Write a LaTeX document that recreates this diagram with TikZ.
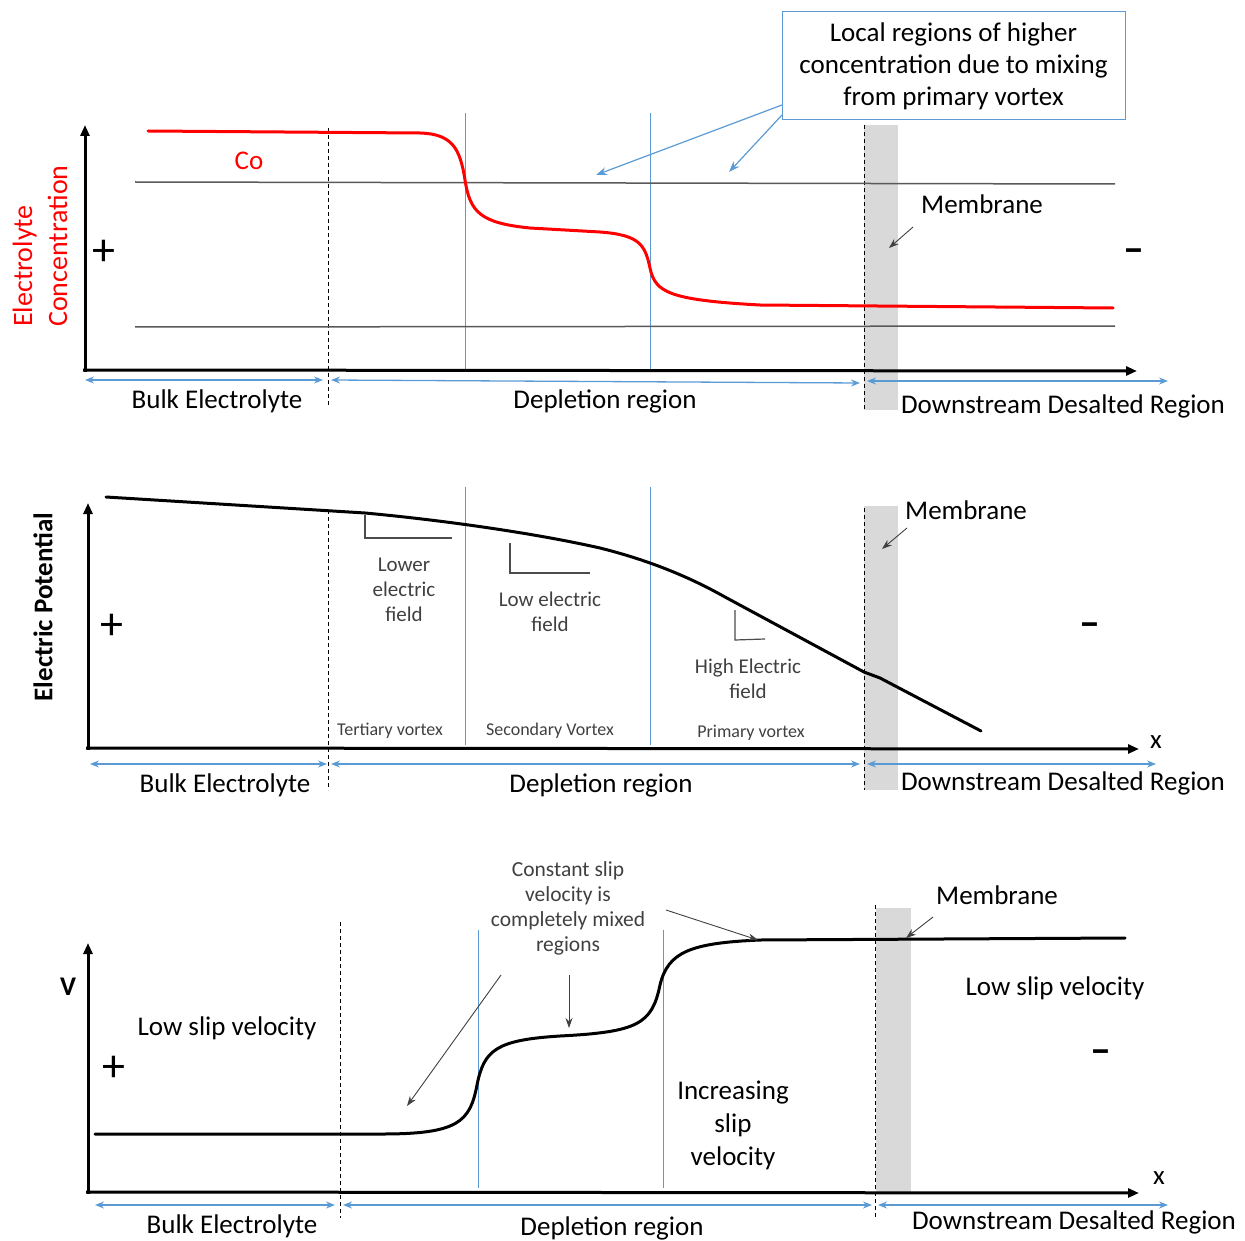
\documentclass[tikz,border=0pt]{standalone}
\usepackage{fontspec}
\setmainfont{Carlito}
\usetikzlibrary{arrows.meta}
\definecolor{lblue}{RGB}{91,155,213}
\definecolor{membc}{RGB}{217,217,217}
\definecolor{txtg}{RGB}{64,64,64}
\tikzset{
  axisline/.style={line width=3pt,-{Triangle[length=11pt,width=9pt]}},
  spanarrow/.style={lblue,line width=1.3pt,{Stealth[length=9pt,width=7pt]}-{Stealth[length=9pt,width=7pt]}},
  boundary/.style={line width=1pt,dash pattern=on 4pt off 3pt},
  vortexline/.style={lblue,line width=1pt},
  refline/.style={black!65,line width=1.5pt},
  membrect/.style={fill=membc,draw=none},
  lbl/.style={font=\fontsize{27}{32}\selectfont,inner sep=0pt},
  smalllbl/.style={font=\fontsize{21}{25}\selectfont,text=txtg,align=center,inner sep=0pt},
  tinylbl/.style={font=\fontsize{18}{21}\selectfont,text=txtg,inner sep=0pt},
  plussign/.style={font=\fontsize{46}{46}\selectfont,inner sep=0pt},
  minussign/.style={font=\fontsize{42}{42}\selectfont\bfseries,inner sep=0pt},
  pointer/.style={-{Stealth[length=10pt,width=7pt]},line width=0.9pt,black!75},
  bluepointer/.style={-{Stealth[length=11pt,width=8pt]},line width=1.2pt,lblue},
  slopemark/.style={black!70,line width=1.2pt},
  curve/.style={line width=3pt,line cap=round},
}
\begin{document}
\begin{tikzpicture}[x=1pt,y=-1pt]
\useasboundingbox (0,0) rectangle (1245,1241);

%%%%%%%%%%%%%%%% PANEL 1
\fill[membrect] (864,125) rectangle (898,410);
\draw[boundary] (864,125) -- (864,410);
\draw[boundary] (328,128) -- (328,405);
\draw[vortexline] (465,113) -- (465,370);
\draw[vortexline] (650,113) -- (650,370);
\draw[refline] (135,182) -- (1115,184);
\draw[refline] (135,327) -- (1115,326);
\draw[curve,red] (148,131) -- (420,133) .. controls (452,134) and (460,148) .. (465,180)
  .. controls (470,212) and (480,223) .. (530,228) -- (600,232)
  .. controls (640,235) and (645,245) .. (650,268)
  .. controls (655,292) and (668,300) .. (760,305) -- (1113,308);
\draw[axisline] (85,372) -- (85,125);
\draw[axisline] (83,370) -- (1137,371);
\node[lbl,text=red] (co) at (249,161) {Co};
\node[lbl,font=\fontsize{28}{35}\selectfont,text=red,rotate=90,align=left] (ylab1) at (40,246) {Electrolyte\\Concentration};
\node[plussign] (plus1) at (104,253) {+};
\node[minussign] (minus1) at (1134,256) {–};
\node[lbl,draw=lblue,line width=1pt,align=center,minimum width=343pt,minimum height=108pt,font=\fontsize{27}{32}\selectfont] (box) at (953.5,66) {Local regions of higher\\concentration due to mixing\\from primary vortex};
\coordinate (b1) at (782,105);
\coordinate (b2) at (782,115);
\coordinate (t1) at (596,175);
\coordinate (t2) at (729,172);
\draw[bluepointer] (b1) -- (t1);
\draw[bluepointer] (b2) -- (t2);
\node[lbl] (mem1) at (982,204) {Membrane};
\coordinate (m1a) at (913,227);
\coordinate (m1b) at (889,248);
\draw[pointer] (m1a) -- (m1b);
\coordinate (s1a) at (85,380); \coordinate (s1b) at (323,380);
\coordinate (s1c) at (331,380); \coordinate (s1d) at (860,383);
\coordinate (s1e) at (867,381); \coordinate (s1f) at (1168,381);
\draw[spanarrow] (s1a) -- (s1b);
\draw[spanarrow] (s1c) -- (s1d);
\draw[spanarrow] (s1e) -- (s1f);
\node[lbl] (bulk1) at (217,401) {Bulk Electrolyte};
\node[lbl] (depl1) at (605,401) {Depletion region};
\node[lbl] (down1) at (1063,406) {Downstream Desalted Region};

%%%%%%%%%%%%%%%% PANEL 2
\fill[membrect] (864,506) rectangle (898,790);
\draw[boundary] (864,508) -- (864,790);
\draw[boundary] (328,510) -- (328,790);
\draw[vortexline] (465,487) -- (465,745);
\draw[vortexline] (650,487) -- (650,745);
\draw[curve] (106,497) -- (365,513) .. controls (420,518) and (520,530) .. (600,548)
  .. controls (660,563) and (700,583) .. (725,597) -- (864,672) -- (880,678) -- (981,731);
\draw[axisline] (88,750) -- (88,503);
\draw[axisline] (86,748) -- (1139,749);
\node[lbl] (x2) at (1156,742) {x};
\draw[slopemark] (365,515) -- (365,538) -- (452,538);
\draw[slopemark] (510,543) -- (510,573) -- (590,573);
\draw[slopemark] (735,610) -- (735,640) -- (765,639);
\node[smalllbl] (lef) at (404,590) {Lower\\electric\\field};
\node[smalllbl] (lowef) at (550,612) {Low electric\\field};
\node[smalllbl] (highef) at (748,679) {High Electric\\field};
\node[tinylbl] (tert) at (390,731) {Tertiary vortex};
\node[tinylbl] (sec) at (550,731) {Secondary Vortex};
\node[tinylbl] (prim) at (751,733) {Primary vortex};
\node[lbl,font=\fontsize{27}{30}\selectfont\bfseries,rotate=90] (ylab2) at (43,607) {Electric Potential};
\node[plussign] (plus2) at (112,627) {+};
\node[minussign] (minus2) at (1090,630) {–};
\node[lbl] (mem2) at (966,510) {Membrane};
\coordinate (m2a) at (907,528);
\coordinate (m2b) at (882,549);
\draw[pointer] (m2a) -- (m2b);
\coordinate (s2a) at (90,764); \coordinate (s2b) at (327,764);
\coordinate (s2c) at (331,764); \coordinate (s2d) at (860,764);
\coordinate (s2e) at (867,764); \coordinate (s2f) at (1156,764);
\draw[spanarrow] (s2a) -- (s2b);
\draw[spanarrow] (s2c) -- (s2d);
\draw[spanarrow] (s2e) -- (s2f);
\node[lbl] (bulk2) at (225,785) {Bulk Electrolyte};
\node[lbl] (depl2) at (601,785) {Depletion region};
\node[lbl] (down2) at (1063,783) {Downstream Desalted Region};

%%%%%%%%%%%%%%%% PANEL 3
\fill[membrect] (876,908) rectangle (911,1192);
\draw[boundary] (875,905) -- (875,1218);
\draw[boundary] (340,922) -- (340,1218);
\draw[vortexline] (478,930) -- (478,1188);
\draw[vortexline] (663,930) -- (663,1188);
\draw[curve] (95,1134) -- (382,1134) .. controls (458,1134) and (470,1122) .. (477,1085)
  .. controls (484,1050) and (496,1040) .. (560,1036)
  .. controls (638,1032) and (652,1024) .. (660,985)
  .. controls (668,952) and (690,943) .. (760,940) -- (1125,938);
\draw[axisline] (88,1194) -- (88,943);
\draw[axisline] (86,1192) -- (1139,1193);
\node[lbl] (x3) at (1159,1178) {x};
\node[lbl,font=\fontsize{27}{30}\selectfont\bfseries] (vlab) at (68,987) {V};
\node[plussign] (plus3) at (114,1069) {+};
\node[minussign] (minus3) at (1101,1057) {–};
\node[smalllbl,font=\fontsize{21.5}{25}\selectfont] (const) at (568,908) {Constant slip\\velocity is\\completely mixed\\regions};
\node[lbl] (low1) at (227,1028) {Low slip velocity};
\node[lbl] (low2) at (1055,988) {Low slip velocity};
\node[lbl,align=center,font=\fontsize{27}{33}\selectfont] (incr) at (733,1125) {Increasing\\slip\\velocity};
\node[lbl] (mem3) at (997,895) {Membrane};
\coordinate (p1a) at (501,975); \coordinate (p1b) at (407,1106);
\coordinate (p2a) at (569,975); \coordinate (p2b) at (569,1028);
\coordinate (p3a) at (666,910); \coordinate (p3b) at (758,940);
\coordinate (m3a) at (933,917); \coordinate (m3b) at (906,938);
\draw[pointer] (p1a) -- (p1b);
\draw[pointer] (p2a) -- (p2b);
\draw[pointer] (p3a) -- (p3b);
\draw[pointer] (m3a) -- (m3b);
\coordinate (s3a) at (95,1205); \coordinate (s3b) at (335,1205);
\coordinate (s3c) at (343,1205); \coordinate (s3d) at (872,1205);
\coordinate (s3e) at (878,1205); \coordinate (s3f) at (1168,1205);
\draw[spanarrow] (s3a) -- (s3b);
\draw[spanarrow] (s3c) -- (s3d);
\draw[spanarrow] (s3e) -- (s3f);
\node[lbl] (bulk3) at (232,1226) {Bulk Electrolyte};
\node[lbl] (depl3) at (612,1228) {Depletion region};
\node[lbl] (down3) at (1074,1222) {Downstream Desalted Region};
\end{tikzpicture}
\end{document}
